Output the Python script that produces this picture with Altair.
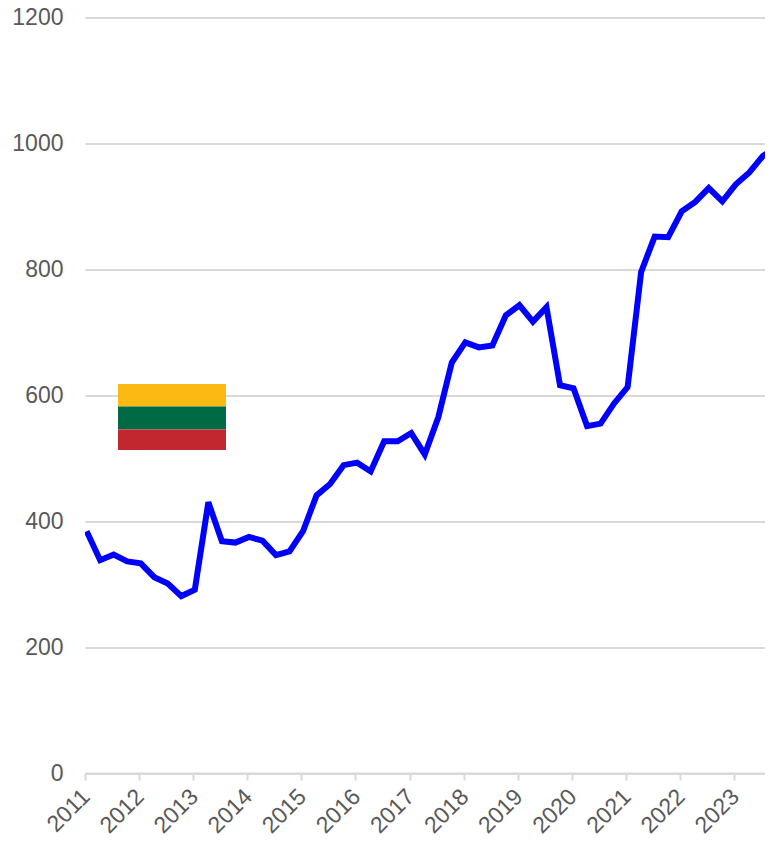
import altair as alt
import pandas as pd

quarters = [2011 + q / 4 + 0.03 for q in range(52)]
values = [384, 338, 347, 336, 333, 311, 301, 281, 291, 430, 368, 366, 375, 369, 346, 352,
          384, 441, 459, 489, 493, 479, 527, 527, 540, 506, 565, 652, 684, 676, 679, 727,
          743, 717, 740, 616, 611, 551, 555, 587, 613, 796, 852, 851, 892, 907, 929, 908,
          935, 954, 980, 994]
years = list(range(2011, 2024))
y_ticks = [0, 200, 400, 600, 800, 1000, 1200]

flag_x = 2011.61
flag_x2 = 2013.606
flag_top = [618, 582, 545.5]
flag_bottom = [582, 545.5, 513]
flag_colors = ["#FDB913", "#006A44", "#C1272D"]

FONT = "Liberation Sans"
TXT = "#595959"
GRID = "#D9D9D9"

line_df = pd.DataFrame({"x": quarters, "v": values})
flag_df = pd.DataFrame({"x": flag_x, "x2": flag_x2, "y": flag_bottom, "y2": flag_top, "c": flag_colors})

x_scale = alt.Scale(domain=[2011, 2011 + 680 / 54.1], nice=False, zero=False)
y_scale = alt.Scale(domain=[0, 1200], nice=False)

line = alt.Chart(line_df).mark_line(color="#0000FF", strokeWidth=6, clip=True, strokeJoin="miter").encode(
    x=alt.X("x:Q", scale=x_scale, axis=alt.Axis(
        values=years, format="d", title=None, labelAngle=-45, labelAlign="right", labelBaseline="top",
        labelFont=FONT, labelFontSize=23, labelColor=TXT, labelPadding=5, labelOverlap=False, labelFlush=False,
        labelOffset=-7, labelFontWeight="normal",
        tickColor=GRID, tickSize=7, tickWidth=2, domainColor=GRID, domainWidth=2, grid=False)),
    y=alt.Y("v:Q", scale=y_scale, axis=alt.Axis(
        values=y_ticks, format="d", title=None, labelFont=FONT, labelFontSize=23, labelColor=TXT, labelPadding=22,
        ticks=False, domain=False, grid=True, gridColor=GRID, gridWidth=2)),
)

flag = alt.Chart(flag_df).mark_rect().encode(
    x=alt.X("x:Q", scale=x_scale), x2="x2:Q",
    y=alt.Y("y:Q", scale=y_scale), y2="y2:Q",
    color=alt.Color("c:N", scale=None),
)

chart = alt.layer(line, flag).properties(
    width=680, height=755.5,
    padding={"left": 77, "top": 9.5, "right": 0, "bottom": 68},
    autosize=alt.AutoSizeParams(type="none"),
).configure_view(stroke=None)

chart.save("out.html", embed_options={"renderer": "svg", "actions": False})
